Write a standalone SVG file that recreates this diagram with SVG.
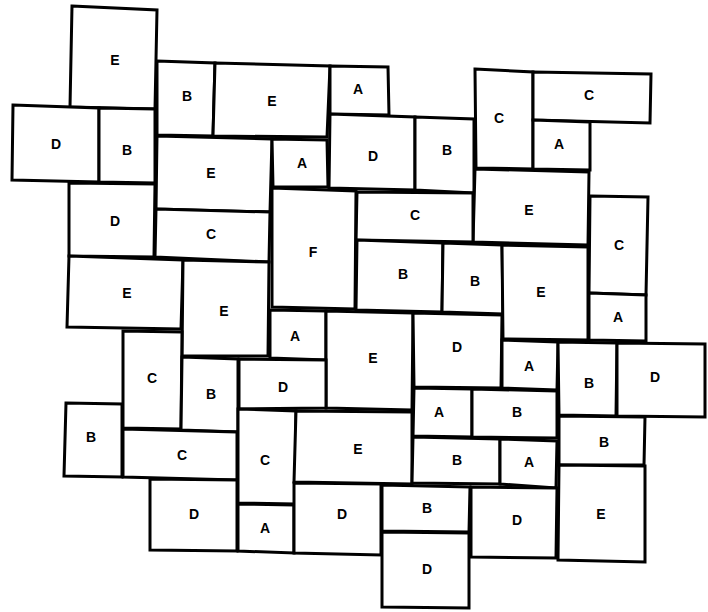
<svg xmlns="http://www.w3.org/2000/svg" width="708" height="612" viewBox="0 0 708 612">
<style>
.t polygon{fill:#fff;stroke:#000;stroke-width:3;stroke-linejoin:miter}
.t text{font-family:"Liberation Sans",Arial,sans-serif;font-weight:bold;font-size:14px;fill:#000;text-anchor:middle;dominant-baseline:central}
</style>
<rect width="708" height="612" fill="#fff"/>
<g class="t">
<g id="t1"><polygon points="72,6 157,10 155,109 70,107"/><text x="115" y="60">E</text></g>
<g id="t2"><polygon points="157,61 215,63 213,136 157,135"/><text x="187" y="96">B</text></g>
<g id="t3"><polygon points="215,63 330,66 327,137 213,136"/><text x="272" y="101">E</text></g>
<g id="t4"><polygon points="330,66 388,67 389,115 330,114"/><text x="358" y="89">A</text></g>
<g id="t5"><polygon points="13,105 99,108 99,182 12,180"/><text x="56" y="144">D</text></g>
<g id="t6"><polygon points="99,108 155,109 155,183 99,182"/><text x="127" y="150">B</text></g>
<g id="t7"><polygon points="157,136 272,139 270,212 156,209"/><text x="211" y="173">E</text></g>
<g id="t8"><polygon points="272,139 327,140 328,187 273,187"/><text x="302" y="163">A</text></g>
<g id="t9"><polygon points="330,114 415,117 415,190 329,188"/><text x="373" y="156">D</text></g>
<g id="t10"><polygon points="415,117 474,119 474,193 415,190"/><text x="447" y="150">B</text></g>
<g id="t11"><polygon points="475,69 533,72 533,169 476,168"/><text x="499" y="118">C</text></g>
<g id="t12"><polygon points="533,72 651,74 650,123 533,120"/><text x="589" y="95">C</text></g>
<g id="t13"><polygon points="533,120 590,122 590,170 533,169"/><text x="559" y="144">A</text></g>
<g id="t14"><polygon points="475,169 589,172 588,245 473,242"/><text x="529" y="210">E</text></g>
<g id="t15"><polygon points="357,192 473,193 473,242 356,240"/><text x="415" y="215">C</text></g>
<g id="t16"><polygon points="590,196 648,197 646,295 589,293"/><text x="619" y="245">C</text></g>
<g id="t17"><polygon points="589,293 646,295 646,341 589,340"/><text x="618" y="317">A</text></g>
<g id="t18"><polygon points="272,188 356,191 355,309 272,307"/><text x="313" y="252">F</text></g>
<g id="t19"><polygon points="357,240 443,243 442,312 356,310"/><text x="403" y="274">B</text></g>
<g id="t20"><polygon points="443,243 502,245 503,314 442,312"/><text x="475" y="281">B</text></g>
<g id="t21"><polygon points="502,245 588,247 588,340 503,339"/><text x="541" y="292">E</text></g>
<g id="t22"><polygon points="69,183 155,184 154,257 69,256"/><text x="115" y="221">D</text></g>
<g id="t23"><polygon points="156,209 270,212 269,262 155,257"/><text x="211" y="234">C</text></g>
<g id="t24"><polygon points="69,256 183,260 181,329 67,327"/><text x="127" y="293">E</text></g>
<g id="t25"><polygon points="183,260 269,262 268,356 182,356"/><text x="224" y="311">E</text></g>
<g id="t26"><polygon points="270,310 326,311 326,360 270,358"/><text x="295" y="336">A</text></g>
<g id="t27"><polygon points="326,311 413,313 412,410 326,408"/><text x="373" y="358">E</text></g>
<g id="t28"><polygon points="123,331 182,332 181,429 123,428"/><text x="152" y="378">C</text></g>
<g id="t29"><polygon points="182,357 238,359 238,432 181,430"/><text x="211" y="394">B</text></g>
<g id="t30"><polygon points="239,359 326,360 326,408 239,409"/><text x="283" y="387">D</text></g>
<g id="t31"><polygon points="66,403 122,404 122,477 64,476"/><text x="91" y="437">B</text></g>
<g id="t32"><polygon points="123,429 237,432 237,480 123,477"/><text x="182" y="455">C</text></g>
<g id="t33"><polygon points="238,409 296,411 295,504 238,503"/><text x="265" y="460">C</text></g>
<g id="t34"><polygon points="296,411 412,412 412,484 294,482"/><text x="358" y="449">E</text></g>
<g id="t35"><polygon points="150,479 237,480 237,551 150,550"/><text x="194" y="514">D</text></g>
<g id="t36"><polygon points="238,504 294,505 294,553 238,551"/><text x="265" y="528">A</text></g>
<g id="t37"><polygon points="294,483 381,484 381,555 294,553"/><text x="342" y="514">D</text></g>
<g id="t38"><polygon points="413,313 502,315 501,388 414,387"/><text x="457" y="347">D</text></g>
<g id="t39"><polygon points="502,340 558,342 557,390 502,388"/><text x="529" y="366">A</text></g>
<g id="t40"><polygon points="558,342 617,343 616,416 559,415"/><text x="589" y="383">B</text></g>
<g id="t41"><polygon points="617,343 705,344 705,417 617,416"/><text x="655" y="377">D</text></g>
<g id="t42"><polygon points="414,388 472,389 472,437 413,436"/><text x="439" y="412">A</text></g>
<g id="t43"><polygon points="472,389 557,391 557,438 472,437"/><text x="517" y="412">B</text></g>
<g id="t44"><polygon points="559,416 645,417 644,465 559,465"/><text x="604" y="442">B</text></g>
<g id="t45"><polygon points="413,437 500,439 500,484 412,483"/><text x="457" y="460">B</text></g>
<g id="t46"><polygon points="500,439 557,441 556,488 500,484"/><text x="529" y="462">A</text></g>
<g id="t47"><polygon points="559,465 645,466 645,562 558,560"/><text x="601" y="514">E</text></g>
<g id="t48"><polygon points="382,485 470,487 469,532 382,531"/><text x="427" y="508">B</text></g>
<g id="t49"><polygon points="471,487 557,488 556,558 471,557"/><text x="517" y="520">D</text></g>
<g id="t50"><polygon points="382,532 469,533 469,608 382,607"/><text x="427" y="569">D</text></g>
</g>
</svg>
